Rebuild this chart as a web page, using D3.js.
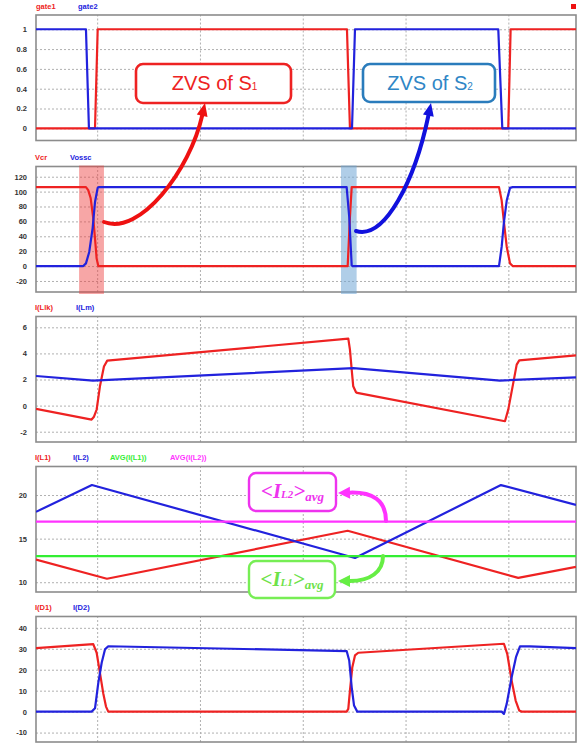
<!DOCTYPE html>
<html><head><meta charset="utf-8">
<script src="https://cdn.jsdelivr.net/npm/d3@7"></script>
<style>body{margin:0;background:#fff}svg{display:block}</style>
</head><body><div id="chart"></div>
<script>
// ---------------- DATA ----------------
const timeDomain = [0.405, 5.658];
const gridTimes = [1, 2, 3, 4, 5];

const gate1 = [[0.405,0],[0.979,0],[1.005,1],[3.430,1],[3.459,0],[4.999,0],[5.022,1],[5.658,1]];
const gate2 = [[0.405,1],[0.891,1],[0.920,0],[3.479,0],[3.508,1],[4.902,1],[4.941,0],[5.658,0]];

const vcr = [[0.405,106],[0.891,106],[0.913,102],[0.937,91],[0.962,64],[0.979,37],[0.995,10],[1.011,0],
  [3.437,0],[3.459,66],[3.476,106],[4.909,106],[4.935,88],[4.957,59],[4.984,26],[5.016,3.6],[5.042,0],[5.658,0]];
const vossc = [[0.405,0],[0.865,0],[0.891,3.6],[0.923,19],[0.956,51],[0.979,86],[1.005,105],[1.015,106],
  [3.427,106],[3.452,66],[3.476,1],[3.485,0],[4.909,0],[4.935,26],[4.957,59],[4.984,88],[5.016,105],[5.042,106],[5.658,106]];

const iLlk = [[0.405,-0.25],[0.946,-1.07],[0.969,-0.85],[0.995,-0.3],[1.027,1.48],[1.066,3.0],[1.098,3.45],
  [3.443,5.13],[3.459,4.29],[3.476,2.76],[3.491,1.48],[3.518,1.02],[3.530,0.97],
  [4.967,-1.2],[4.999,-0.31],[5.048,1.74],[5.081,3.14],[5.106,3.47],[5.658,3.85]];
const iLm = [[0.405,2.27],[0.959,1.92],[3.491,2.87],[4.918,1.92],[5.658,2.17]];

const iL1 = [[0.405,12.6],[1.095,10.4],[3.437,15.9],[5.096,10.5],[5.658,11.76]];
const iL2 = [[0.405,18.07],[0.949,21.15],[3.508,12.78],[4.928,21.14],[5.658,18.86]];
const avgIL1 = [[0.405,13.0],[5.658,13.0]];
const avgIL2 = [[0.405,16.95],[5.658,16.95]];

const iD1 = [[0.405,30.3],[0.962,32.2],[0.995,28.1],[1.027,18.5],[1.059,8.8],[1.086,2.4],[1.108,0],
  [3.427,0],[3.443,1.3],[3.459,10],[3.482,21.2],[3.508,26.8],[3.540,28.1],
  [4.957,32.4],[4.989,27.6],[5.032,14.8],[5.071,5.3],[5.106,0.5],[5.129,0],[5.658,0]];
const iD2 = [[0.405,0],[0.946,0],[0.979,1.6],[1.011,13.7],[1.044,23.3],[1.076,29.7],[1.108,31.2],
  [3.427,28.9],[3.452,24.4],[3.476,11.6],[3.499,2.9],[3.530,0],
  [4.935,0],[4.957,-1.1],[4.984,3.7],[5.032,16.4],[5.074,26.0],[5.113,31.1],[5.210,31.1],[5.658,30.3]];

const ticks1 = [0,0.2,0.4,0.6,0.8,1];
const ticks2 = [-20,0,20,40,60,80,100,120];
const ticks3 = [-2,0,2,4,6];
const ticks4 = [10,15,20];
const ticks5 = [-10,0,10,20,30,40];

// ---------------- STYLE / LAYOUT ----------------
const RED = "#ee2222", BLUE = "#2222dd", GREEN = "#33ee33", MAGENTA = "#ff33ff";
const FONT = "'Liberation Sans', Arial, sans-serif";
const left = 36, right = 576, ph = 125.5;

const panels = [
  {top:15,    domain:[-0.123,1.144], ticks:ticks1,
   labels:[["gate1",RED,36],["gate2",BLUE,78]],
   series:[{d:gate1,c:RED},{d:gate2,c:BLUE}]},
  {top:166.5, domain:[-34.8,133.7], ticks:ticks2,
   labels:[["Vcr",RED,35],["Vossc",BLUE,70]],
   series:[{d:vcr,c:RED},{d:vossc,c:BLUE}],
   shades:[{t0:0.824,t1:1.066,c:"#ee3a3a",o:0.45},{t0:3.372,t1:3.524,c:"#6fa6d6",o:0.55}]},
  {top:316.5, domain:[-2.79,6.83], ticks:ticks3,
   labels:[["I(Llk)",RED,35],["I(Lm)",BLUE,76]],
   series:[{d:iLlk,c:RED},{d:iLm,c:BLUE}]},
  {top:466.5, domain:[8.88,23.27], ticks:ticks4,
   labels:[["I(L1)",RED,35],["I(L2)",BLUE,73],["AVG(I(L1))",GREEN,110],["AVG(I(L2))",MAGENTA,170]],
   series:[{d:iL1,c:RED},{d:iL2,c:BLUE},{d:avgIL1,c:GREEN},{d:avgIL2,c:MAGENTA}]},
  {top:616.5, domain:[-14.5,45.4], ticks:ticks5,
   labels:[["I(D1)",RED,35],["I(D2)",BLUE,73]],
   series:[{d:iD1,c:RED},{d:iD2,c:BLUE}]}
];

const svg = d3.select("#chart").append("svg").attr("width",584).attr("height",744)
  .style("font-family",FONT);

const x = d3.scaleLinear().domain(timeDomain).range([left,right]);

svg.append("defs").append("clipPath").attr("id","clipAll")
  .append("rect").attr("x",left).attr("y",0).attr("width",right-left).attr("height",744);

panels.forEach((p,i)=>{
  const y = d3.scaleLinear().domain(p.domain).range([p.top+ph,p.top]);
  const g = svg.append("g");

  // horizontal grid + tick labels
  const ga = g.append("g").attr("transform",`translate(${left},0)`)
    .call(d3.axisLeft(y).tickValues(p.ticks).tickSize(-(right-left)).tickPadding(9).tickFormat(d=>String(d)));
  ga.select(".domain").remove();
  ga.selectAll(".tick line").attr("stroke","#b0b0b0").attr("stroke-width",1).attr("stroke-dasharray","2,2");
  ga.selectAll(".tick text").attr("font-family",FONT).attr("font-size",7.5).attr("font-weight","bold").attr("fill","#333");

  // vertical grid
  const gx = g.append("g").attr("transform",`translate(0,${p.top+ph})`)
    .call(d3.axisBottom(x).tickValues(gridTimes).tickSize(-ph).tickFormat(""));
  gx.select(".domain").remove();
  gx.selectAll(".tick line").attr("stroke","#b0b0b0").attr("stroke-width",1).attr("stroke-dasharray","2,2");

  // border
  g.append("rect").attr("x",left).attr("y",p.top).attr("width",right-left).attr("height",ph)
    .attr("fill","none").attr("stroke","#8c8c8c").attr("stroke-width",1.6);

  // shaded regions
  (p.shades||[]).forEach(s=>{
    g.append("rect").attr("x",x(s.t0)).attr("y",p.top-1).attr("width",x(s.t1)-x(s.t0)).attr("height",ph+3)
      .attr("fill",s.c).attr("opacity",s.o);
  });

  // traces
  const line = d3.line().x(d=>x(d[0])).y(d=>y(d[1]));
  const lg = g.append("g").attr("clip-path","url(#clipAll)");
  p.series.forEach(s=>{
    lg.append("path").attr("d",line(s.d)).attr("fill","none").attr("stroke",s.c)
      .attr("stroke-width",2.2).attr("stroke-linejoin","round");
  });

  // trace labels
  p.labels.forEach(([t,c,lx])=>{
    g.append("text").attr("x",lx).attr("y",p.top-6.5).text(t)
      .attr("font-size",7.5).attr("font-weight","bold").attr("fill",c);
  });
});

// small red marker top-right
svg.append("rect").attr("x",571).attr("y",4).attr("width",5).attr("height",5).attr("fill","#ee1111");

// ---------------- CALLOUTS ----------------
function arrow(p0,c1,c2,tip,color,w,hl,hw){
  const dx = tip[0]-c2[0], dy = tip[1]-c2[1], L = Math.hypot(dx,dy);
  const ux = dx/L, uy = dy/L;
  const base = [tip[0]-ux*hl, tip[1]-uy*hl];
  svg.append("path").attr("d",`M${p0}C${c1} ${c2} ${base}`).attr("fill","none")
    .attr("stroke",color).attr("stroke-width",w).attr("stroke-linecap","round");
  const px = -uy, py = ux;
  svg.append("path").attr("d",`M${tip}L${base[0]+px*hw/2},${base[1]+py*hw/2}L${base[0]-px*hw/2},${base[1]-py*hw/2}Z`)
    .attr("fill",color);
}

// ZVS boxes
const zvs = [
  {x0:136,y0:64,x1:291,y1:103,c:"#ee2222",tc:"#ee2222",sub:"1"},
  {x0:363,y0:64,x1:495,y1:102,c:"#2a7cbc",tc:"#2f86c6",sub:"2"}
];
zvs.forEach(b=>{
  svg.append("rect").attr("x",b.x0).attr("y",b.y0).attr("width",b.x1-b.x0).attr("height",b.y1-b.y0)
    .attr("rx",7).attr("fill","#fff").attr("stroke",b.c).attr("stroke-width",2.6);
  const t = svg.append("text").attr("x",(b.x0+b.x1)/2+1).attr("y",89.5).attr("text-anchor","middle")
    .attr("font-size",20).attr("fill",b.tc);
  t.append("tspan").text("ZVS of S");
  t.append("tspan").attr("font-size",10).text(b.sub);
});

arrow([104,222],[140,236],[190,170],[205,103],"#ee1111",4,13,11);
arrow([356,231],[385,240],[415,180],[431,103],"#1111dd",4,13,11);

// average boxes
const avgBoxes = [
  {x0:249,y0:473,x1:336,y1:511,c:"#ee33ee",tc:"#ee33ee",sub:"L2",base:498},
  {x0:249,y0:561,x1:335,y1:598,c:"#77ee55",tc:"#6ee24a",sub:"L1",base:586}
];
avgBoxes.forEach(b=>{
  svg.append("rect").attr("x",b.x0).attr("y",b.y0).attr("width",b.x1-b.x0).attr("height",b.y1-b.y0)
    .attr("rx",7).attr("fill","#fff").attr("stroke",b.c).attr("stroke-width",2.4);
  const t = svg.append("text").attr("x",(b.x0+b.x1)/2).attr("y",b.base).attr("text-anchor","middle")
    .attr("font-family","'Liberation Serif','Times New Roman',serif").attr("font-style","italic")
    .attr("font-weight","bold").attr("fill",b.tc).attr("font-size",21);
  t.append("tspan").text("<");
  t.append("tspan").text("I");
  t.append("tspan").attr("font-size",11).text(b.sub);
  t.append("tspan").text(">");
  t.append("tspan").attr("font-size",13).attr("dy",3).text("avg");
});

arrow([386,521],[386,500],[372,492],[338,493],"#ff33ff",4,12,12);
arrow([383,556],[383,572],[370,581],[338,581],"#66ee44",4,12,12);
</script>
</body></html>
